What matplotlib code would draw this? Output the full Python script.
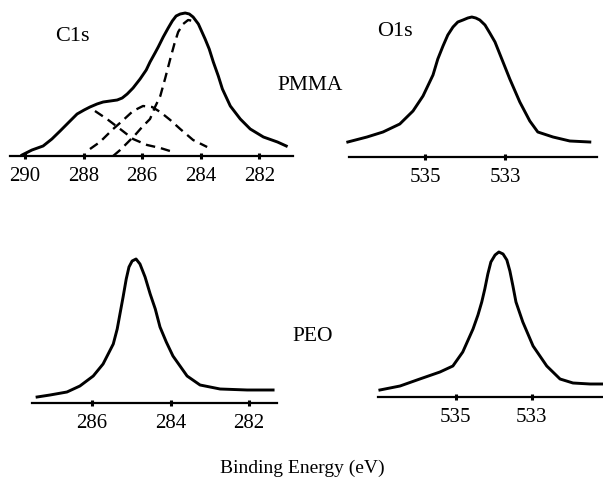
import matplotlib
matplotlib.use("Agg")
import matplotlib.pyplot as plt

plt.rcParams['font.family'] = ['Liberation Serif', 'DejaVu Serif']

# C1s PMMA: envelope and fitted components (eV, arb. intensity)
c1s_pmma_ev = [290.10, 289.76, 289.38, 289.08, 288.80, 288.46, 288.22, 287.98, 287.78, 287.54,
               287.33, 287.09, 286.85, 286.68, 286.51, 286.31, 286.07, 285.86, 285.73, 285.56,
               285.45, 285.28, 285.11, 284.97, 284.84, 284.70, 284.53, 284.39, 284.26, 284.08,
               283.85, 283.71, 283.57, 283.40, 283.26, 282.99, 282.65, 282.31, 281.86, 281.38,
               281.08]
c1s_pmma_i = [1, 6, 10, 17, 25, 35, 42, 46, 49, 52,
              54, 55, 56, 58, 62, 68, 77, 86, 94, 103,
              109, 119, 128, 135, 140, 142, 143, 142, 139, 132,
              117, 107, 94, 80, 67, 50, 37, 27, 19, 14,
              10]
cc_ev = [286.99, 286.75, 286.51, 286.24, 286.00, 285.73, 285.56, 285.38, 285.21, 285.04,
         284.90, 284.77, 284.60, 284.43, 284.26]
cc_i = [0, 6, 13, 21, 29, 37, 49, 60, 78, 97, 112, 124, 132, 136, 135]
co_ev = [287.78, 287.44, 286.99, 286.68, 286.31, 285.97, 285.66, 285.38, 285.04, 284.70,
         284.26, 283.78]
co_i = [7, 14, 27, 35, 45, 50, 49, 44, 36, 27, 16, 9]
coo_ev = [287.61, 287.20, 286.75, 286.31, 285.83, 285.38, 284.94]
coo_i = [45, 37, 27, 17, 11, 8, 4]

# O1s PMMA
o1s_pmma_ev = [536.93, 536.45, 536.05, 535.63, 535.30, 535.05, 534.80, 534.68, 534.55, 534.43,
               534.30, 534.18, 534.05, 533.93, 533.83, 533.73, 533.63, 533.50, 533.38, 533.25,
               533.13, 533.00, 532.88, 532.63, 532.38, 532.18, 531.80, 531.38, 530.88]
o1s_pmma_i = [15, 20, 25, 33, 46, 61, 82, 98, 111, 122,
              130, 135, 137, 139, 140, 139, 137, 132, 124, 115,
              103, 90, 78, 55, 36, 25, 20, 16, 15]

# C1s PEO
c1s_peo_ev = [287.40, 287.07, 286.64, 286.31, 285.97, 285.72, 285.46, 285.36, 285.29, 285.21,
              285.13, 285.06, 284.98, 284.88, 284.78, 284.65, 284.52, 284.39, 284.27, 284.11,
              283.94, 283.58, 283.25, 282.74, 282.05, 281.39]
c1s_peo_i = [6, 8, 11, 17, 27, 39, 59, 74, 89, 106,
             124, 136, 142, 144, 139, 126, 109, 94, 76, 61,
             47, 27, 18, 14, 13, 13]

# O1s PEO
o1s_peo_ev = [537.00, 536.47, 535.95, 535.42, 535.08, 534.82, 534.55, 534.42, 534.32, 534.24,
              534.16, 534.08, 533.97, 533.87, 533.76, 533.66, 533.58, 533.50, 533.42, 533.24,
              532.97, 532.61, 532.26, 531.92, 531.47, 531.16]
o1s_peo_i = [7, 11, 18, 25, 31, 45, 68, 82, 95, 108,
             123, 135, 142, 145, 143, 137, 126, 111, 95, 75,
             51, 31, 18, 14, 13, 13]

W, H = 603, 481
fig = plt.figure(figsize=(W / 100, H / 100), dpi=100)


def panel(x0, x1, ytop, ybase, xlim, ticks):
    ax = fig.add_axes([x0 / W, 1 - ybase / H, (x1 - x0) / W, (ybase - ytop) / H])
    ax.set_xlim(*xlim)
    ax.set_ylim(0, ybase - ytop)
    for s in ['top', 'left', 'right']:
        ax.spines[s].set_visible(False)
    ax.spines['bottom'].set_linewidth(1.6)
    ax.set_yticks([])
    ax.set_xticks(ticks)
    ax.tick_params(axis='x', direction='inout', length=5, width=2.2, labelsize=15, pad=5)
    ax.patch.set_alpha(0)
    return ax


def curve(ax, ev, inten, **kw):
    ax.plot(ev, inten, color='black', solid_joinstyle='round', dash_joinstyle='round',
            clip_on=False, **kw)


ax1 = panel(10, 293, 10, 157, (290.51, 280.85), [290, 288, 286, 284, 282])
curve(ax1, c1s_pmma_ev, c1s_pmma_i, lw=2.1)
for ev, inten in [(cc_ev, cc_i), (co_ev, co_i), (coo_ev, coo_i)]:
    curve(ax1, ev, inten, lw=1.7, ls=(0, (4, 2.5)))

ax2 = panel(349, 597, 10, 158, (536.9, 530.7), [535, 533])
curve(ax2, o1s_pmma_ev, o1s_pmma_i, lw=2.1)

ax3 = panel(32, 277, 250, 404, (287.53, 281.29), [286, 284, 282])
curve(ax3, c1s_peo_ev, c1s_peo_i, lw=2.1)

ax4 = panel(378, 603, 250, 398, (537.05, 531.13), [535, 533])
curve(ax4, o1s_peo_ev, o1s_peo_i, lw=2.1)

fig.text(72 / W, 1 - 37 / H, 'C1s', fontsize=16, ha='center', va='center')
fig.text(395 / W, 1 - 32 / H, 'O1s', fontsize=16, ha='center', va='center')
fig.text(310 / W, 1 - 86 / H, 'PMMA', fontsize=15.5, ha='center', va='center')
fig.text(313 / W, 1 - 337 / H, 'PEO', fontsize=15.5, ha='center', va='center')
fig.text(302 / W, 1 - 468 / H, 'Binding Energy (eV)', fontsize=14, ha='center', va='center')

fig.savefig('out.png', dpi=100)
